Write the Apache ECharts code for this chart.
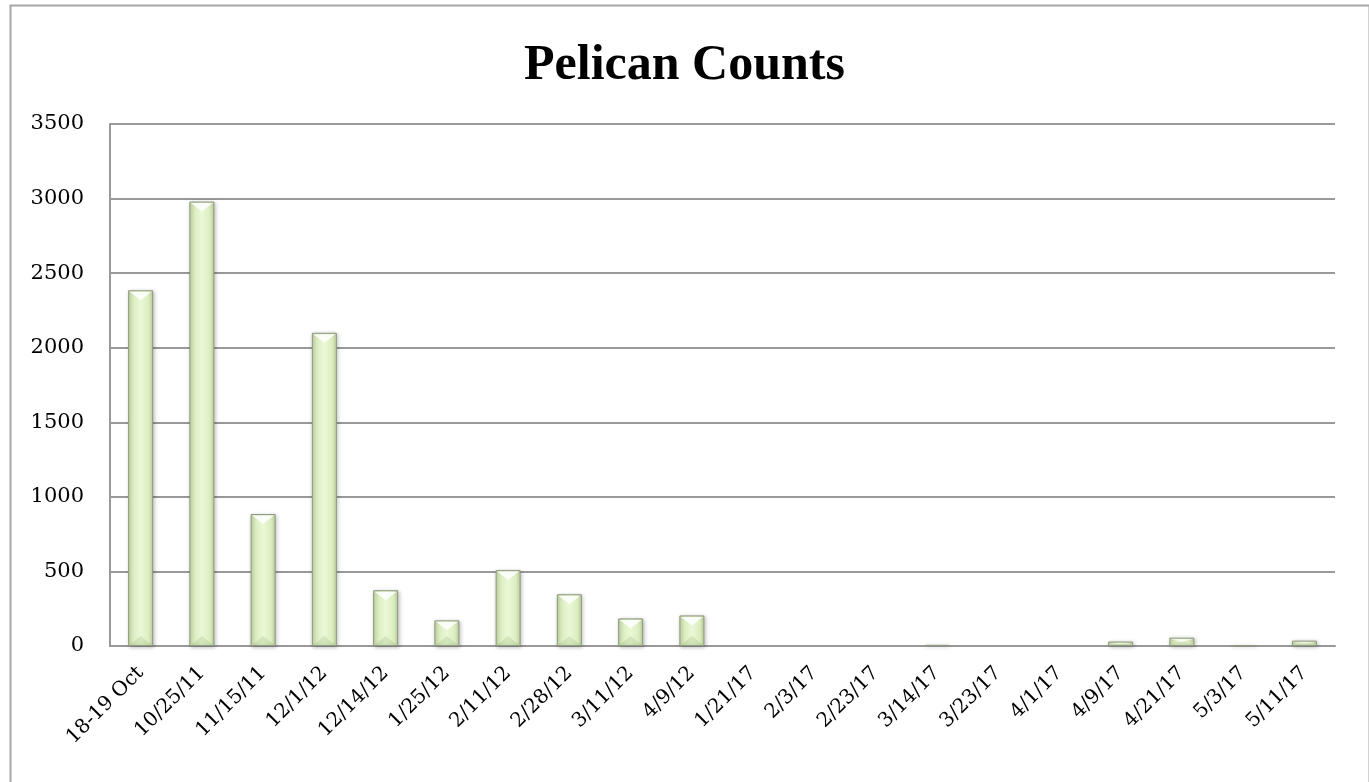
<!DOCTYPE html>
<html><head><meta charset="utf-8">
<script src="https://cdn.jsdelivr.net/npm/echarts@6/dist/echarts.min.js"></script>
<style>html,body{margin:0;padding:0;background:#fff}#c{width:1369px;height:782px}</style>
</head><body><div id="c"></div>
<script>
const categories = ['18-19 Oct','10/25/11','11/15/11','12/1/12','12/14/12','1/25/12','2/11/12','2/28/12','3/11/12','4/9/12','1/21/17','2/3/17','2/23/17','3/14/17','3/23/17','4/1/17','4/9/17','4/21/17','5/3/17','5/11/17'];
const counts = [2385, 2980, 885, 2100, 374, 172, 509, 347, 185, 205, 0, 0, 0, 8, 0, 0, 30, 56, 5, 36];
const yTicks = [0, 500, 1000, 1500, 2000, 2500, 3000, 3500];

const chart = echarts.init(document.getElementById('c'));
const BAR_W = 25;
const barColor = new echarts.graphic.LinearGradient(0, 0, 1, 0, [
  {offset: 0, color: '#c3d6a3'},
  {offset: 0.18, color: '#dcedc0'},
  {offset: 0.5, color: '#eaf8d6'},
  {offset: 0.82, color: '#dcedc0'},
  {offset: 1, color: '#bfd29f'}
]);
function bevel(params, api) {
  const v = api.value(1);
  if (!v) return;
  const top = api.coord([api.value(0), v]);
  const base = api.coord([api.value(0), 0]);
  const x = top[0], hw = BAR_W / 2 - 1.5;
  const h = base[1] - top[1];
  if (h < 2) return;
  const d = Math.min(10, h / 2);
  return {
    type: 'group',
    children: [
      {type: 'polygon', shape: {points: [[x - hw, top[1] + 1.5], [x + hw, top[1] + 1.5], [x, top[1] + d]]},
       style: {fill: 'rgba(255,255,255,0.85)'}},
      {type: 'polygon', shape: {points: [[x - hw, base[1] - 1], [x + hw, base[1] - 1], [x, base[1] - d]]},
       style: {fill: 'rgba(150,175,120,0.25)'}}
    ]
  };
}
chart.setOption({
  animation: false,
  title: {
    text: 'Pelican Counts', left: 'center', top: 36,
    textStyle: {fontFamily: 'Liberation Serif', fontWeight: 'bold', fontSize: 50, color: '#000'}
  },
  graphic: [{
    type: 'rect', left: 8, top: 3, silent: true,
    shape: {width: 1359, height: 800},
    style: {fill: 'none', stroke: '#a6a6a6', lineWidth: 2}
  }],
  grid: {left: 110, right: 34, top: 124, bottom: 136},
  xAxis: {
    type: 'category', data: categories,
    axisLine: {lineStyle: {color: '#999', width: 2}},
    axisTick: {show: false},
    axisLabel: {rotate: 45, interval: 0, margin: 24, color: '#000', fontFamily: 'DejaVu Serif', fontSize: 20}
  },
  yAxis: {
    type: 'value', min: yTicks[0], max: yTicks[yTicks.length - 1], interval: 500,
    axisLine: {show: true, lineStyle: {color: '#999', width: 2}},
    axisTick: {show: false},
    splitLine: {lineStyle: {color: '#999', width: 2}},
    axisLabel: {color: '#000', fontFamily: 'DejaVu Serif', fontSize: 21, margin: 26, formatter: v => String(v)}
  },
  series: [{
    type: 'bar', data: counts.map(v => v === 0 ? '-' : v), barWidth: BAR_W,
    itemStyle: {
      color: barColor, borderColor: '#8e9a7e', borderWidth: 1,
      shadowColor: 'rgba(0,0,0,0.25)', shadowBlur: 4, shadowOffsetX: 1, shadowOffsetY: 1
    }
  }, {
    type: 'custom', renderItem: bevel, silent: true, z: 5,
    data: counts.map((v, i) => [i, v])
  }]
});
</script></body></html>
